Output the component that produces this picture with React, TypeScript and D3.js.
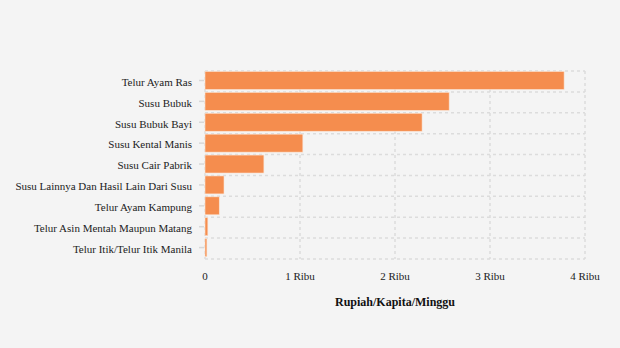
import React from "react";
import * as d3 from "d3";

const categories = [
  "Telur Ayam Ras",
  "Susu Bubuk",
  "Susu Bubuk Bayi",
  "Susu Kental Manis",
  "Susu Cair Pabrik",
  "Susu Lainnya Dan Hasil Lain Dari Susu",
  "Telur Ayam Kampung",
  "Telur Asin Mentah Maupun Matang",
  "Telur Itik/Telur Itik Manila",
];
const values = [3780, 2570, 2285, 1030, 620, 200, 150, 30, 20];
const tickValues = [0, 1000, 2000, 3000, 4000];
const tickLabels = ["0", "1 Ribu", "2 Ribu", "3 Ribu", "4 Ribu"];
const axisTitle = "Rupiah/Kapita/Minggu";

export default function App() {
  const W = 620, H = 348;
  const left = 205, right = 585, top = 71, bottom = 259;
  const x = d3.scaleLinear().domain([0, 4000]).range([left, right]);
  const y = d3.scaleBand().domain(categories).range([top, bottom]).paddingInner(0).paddingOuter(0);
  const step = y.step();
  const barH = step * 0.86;
  const font = "'Liberation Serif', 'Times New Roman', serif";
  const gridColor = "#dcdcdc";
  return (
    <svg width={W} height={H} style={{ position: "fixed", left: 0, top: 0, background: "#f4f4f4" }} fontFamily={font}>
      <rect x={0} y={0} width={W} height={H} fill="#f4f4f4" />
      {categories.map((c, i) => (
        <line key={"h" + i} x1={left} x2={right} y1={y(c)!} y2={y(c)!}
          stroke={gridColor} strokeWidth={1.5} strokeDasharray="3,3" />
      ))}
      <line x1={left} x2={right} y1={bottom} y2={bottom} stroke={gridColor} strokeWidth={1.5} strokeDasharray="3,3" />
      {tickValues.map((t, i) => (
        <line key={"v" + i} x1={x(t)} x2={x(t)} y1={top} y2={bottom} stroke={gridColor} strokeWidth={1.5} strokeDasharray="3,3" />
      ))}
      {categories.map((c, i) => {
        const by = y(c)! + 0.5;
        const cy = by + barH / 2;
        return (
          <g key={"b" + i}>
            <rect x={x(0)} y={by} width={x(values[i]) - x(0)} height={barH} fill="#f58d4e" stroke="#fbe3d2" strokeWidth={0.6} />
            <line x1={left - 6} x2={left - 1} y1={cy} y2={cy} stroke="#d8d8d8" strokeWidth={1.5} />
            <text x={left - 13} y={cy + 1.5} dy="0.35em" textAnchor="end" fontSize={11} fill="#222">{c}</text>
          </g>
        );
      })}
      {tickValues.map((t, i) => (
        <text key={"t" + i} x={x(t)} y={280} textAnchor="middle" fontSize={11} fill="#222">{tickLabels[i]}</text>
      ))}
      <text x={(left + right) / 2} y={306} textAnchor="middle" fontSize={12} fontWeight="bold" fill="#111">{axisTitle}</text>
    </svg>
  );
}
